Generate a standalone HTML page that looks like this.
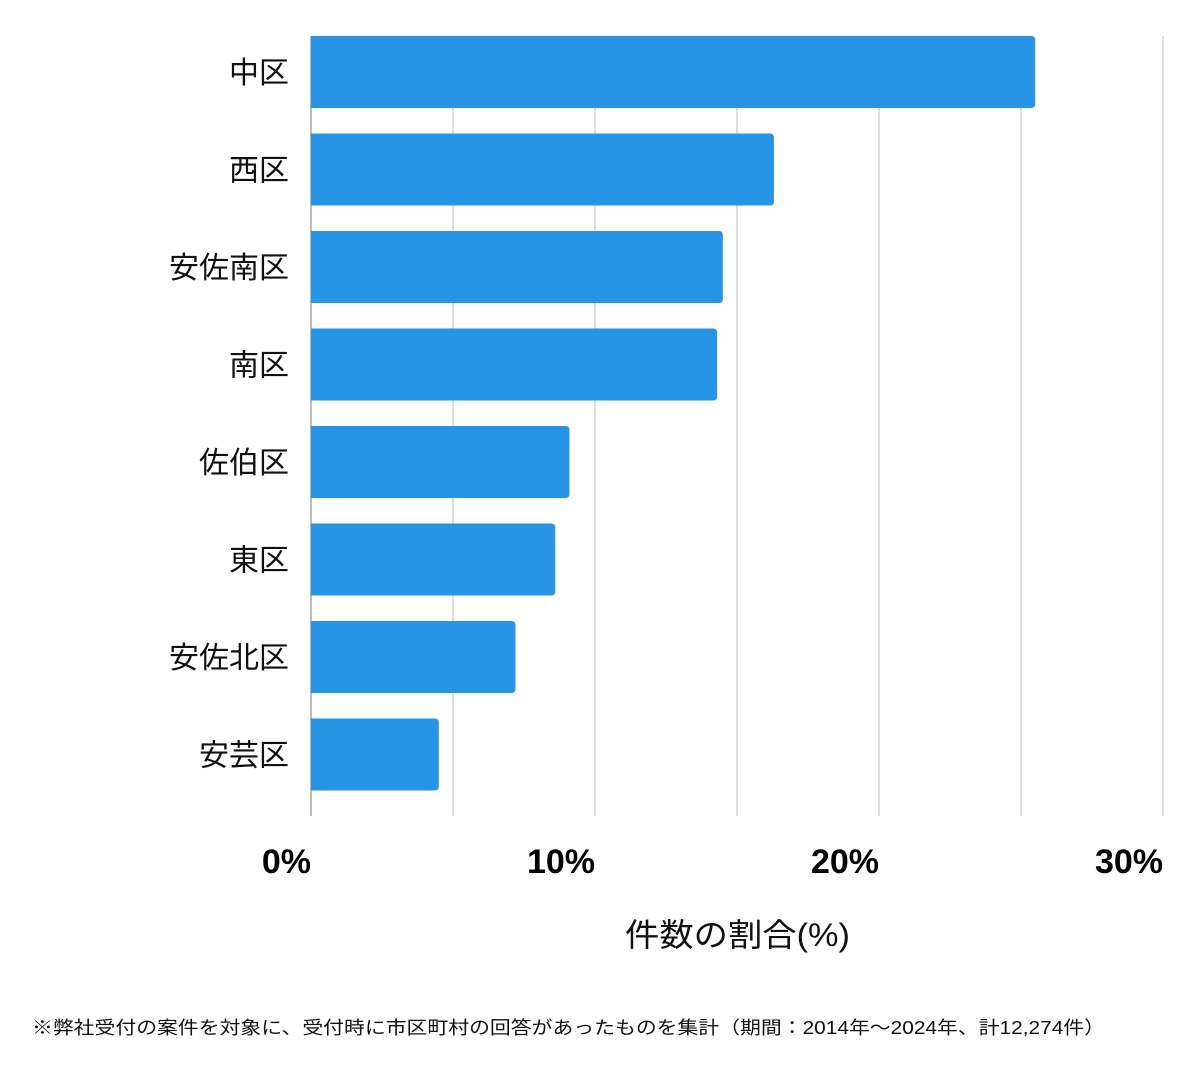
<!DOCTYPE html>
<html><head><meta charset="utf-8"><style>
body{margin:0;background:#fff;}
svg{display:block;font-family:"Liberation Sans","Noto Sans CJK JP",sans-serif;}
</style></head><body>
<svg id="chart" width="1200" height="1069" viewBox="0 0 1200 1069" xmlns="http://www.w3.org/2000/svg">
<g id="grid"></g>
<g id="bars"></g>
<g id="ylabels"></g>
<g id="xlabels"></g>
<text x="625" y="946" textLength="225" lengthAdjust="spacingAndGlyphs" font-size="32" fill="#111">件数の割合(%)</text>
<text x="32" y="1034" textLength="1073" lengthAdjust="spacingAndGlyphs" font-size="18" fill="#111">※弊社受付の案件を対象に、受付時に市区町村の回答があったものを集計（期間：2014年〜2024年、計12,274件）</text>
</svg>
<script>
const categories=["中区","西区","安佐南区","南区","佐伯区","東区","安佐北区","安芸区"];
const values=[25.5,16.3,14.5,14.3,9.1,8.6,7.2,4.5];
const gridValues=[0,5,10,15,20,25,30];
const tickValues=[0,10,20,30];
const tickLabels=["0%","10%","20%","30%"];
const NS="http://www.w3.org/2000/svg";
const x0=311,x1=1163,xmax=30,plotTop=36,plotBottom=816;
const xs=v=>x0+(v/xmax)*(x1-x0);
const band=(plotBottom-plotTop)/categories.length;
const ys=i=>plotTop+i*band;
function mk(t,a,p){const e=document.createElementNS(NS,t);for(const k in a)e.setAttribute(k,a[k]);p.appendChild(e);return e;}
const grid=document.getElementById('grid');
gridValues.forEach(v=>{
 const l=mk('line',{x1:xs(v),x2:xs(v),y1:plotTop,y2:plotBottom,stroke:v===0?'#bbb':'#ddd','stroke-width':2},grid);
 
 
});
const bars=document.getElementById('bars'),yl=document.getElementById('ylabels');
categories.forEach((c,i)=>{
 const y=ys(i),h=72,w=xs(values[i])-x0;
 const p=mk('path',{d:`M${x0},${y}H${x0+w-4}Q${x0+w},${y} ${x0+w},${y+4}V${y+h-4}Q${x0+w},${y+h} ${x0+w-4},${y+h}H${x0}Z`,fill:'#2794e6'},bars);
 
 
 const t=mk('text',{x:289,y:y+h/2+11,'text-anchor':'end','font-size':30,fill:'#111'},yl);
 t.textContent=c;
 
 
});
const xl=document.getElementById('xlabels');
tickValues.forEach((v,i)=>{
 const t=mk('text',{x:xs(v),y:873,'text-anchor':'end','font-size':34,'font-weight':'bold',fill:'#000'},xl);
 t.textContent=tickLabels[i];
 
 
});
</script>
</body></html>
